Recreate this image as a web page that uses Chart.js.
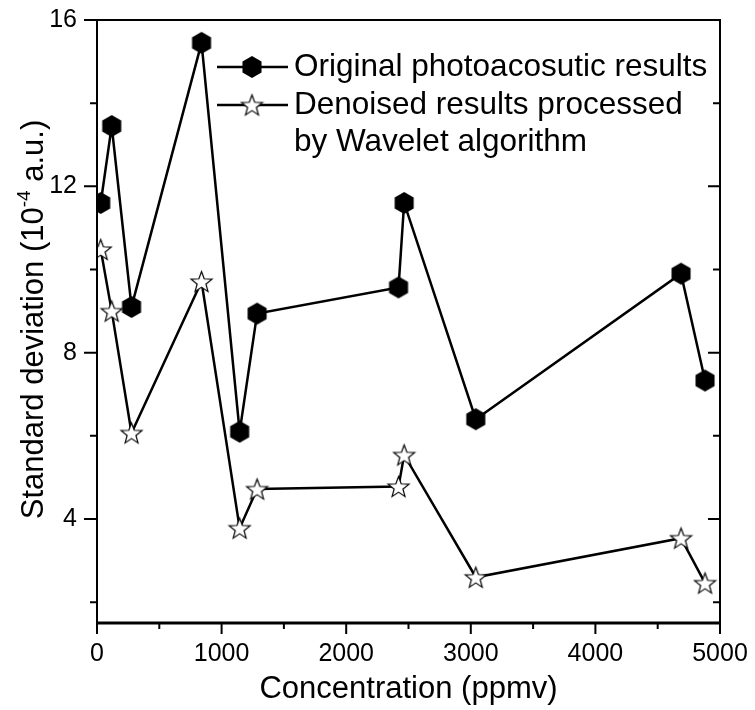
<!DOCTYPE html>
<html>
<head>
<meta charset="utf-8">
<script src="https://cdn.jsdelivr.net/npm/chart.js@4.4.1/dist/chart.umd.min.js"></script>
<style>
  html, body { margin: 0; padding: 0; background: #fff; }
</style>
</head>
<body>
<canvas id="chart" width="755" height="710"></canvas>
<script>
/* ---------- Data ---------- */
const concentration   = [30, 118, 277, 839, 1145, 1285, 2420, 2465, 3040, 4687, 4880];
const originalResults = [11.6, 13.45, 9.1, 15.45, 6.1, 8.94, 9.57, 11.6, 6.4, 9.9, 7.33];
const denoisedResults = [10.48, 9.0, 6.07, 9.71, 3.78, 4.72, 4.78, 5.54, 2.6, 3.54, 2.46];
const xTicks = [0, 1000, 2000, 3000, 4000, 5000];
const yTicks = [4, 8, 12, 16];
const seriesNames = [['Original photoacosutic results'], ['Denoised results processed', 'by Wavelet algorithm']];

const FONT = "'Liberation Sans', Arial, Helvetica, sans-serif";

/* ---------- Marker images ---------- */
function hexagonMarker(r) {
  const c = document.createElement('canvas');
  const s = Math.ceil(r * 2 + 2);
  c.width = c.height = s;
  const g = c.getContext('2d');
  g.beginPath();
  for (let i = 0; i < 6; i++) {
    const a = Math.PI / 2 + i * Math.PI / 3; // pointy top
    g.lineTo(s / 2 + r * Math.cos(a), s / 2 - r * Math.sin(a));
  }
  g.closePath();
  g.fillStyle = '#000';
  g.fill();
  return c;
}

function starMarker(r) {
  const c = document.createElement('canvas');
  const s = Math.ceil(r * 2 + 3);
  c.width = c.height = s;
  const g = c.getContext('2d');
  g.beginPath();
  for (let i = 0; i < 10; i++) {
    const rr = i % 2 === 0 ? r : r * 0.42;
    const a = Math.PI / 2 + i * Math.PI / 5;
    g.lineTo(s / 2 + rr * Math.cos(a), s / 2 + 1 - rr * Math.sin(a));
  }
  g.closePath();
  g.fillStyle = '#fff';
  g.fill();
  g.strokeStyle = '#000';
  g.lineWidth = 1.2;
  g.stroke();
  return c;
}

const hexImg  = hexagonMarker(11);
const starImg = starMarker(11);

/* ---------- Frame + tick marks ---------- */
const framePlugin = {
  id: 'frame',
  afterDatasetsDraw(chart) {
    const { ctx, chartArea: a, scales: { x, y } } = chart;
    ctx.save();
    ctx.strokeStyle = '#000';
    ctx.lineWidth = 2;
    ctx.strokeRect(a.left, a.top, a.right - a.left, a.bottom - a.top);
    ctx.lineWidth = 3;
    ctx.beginPath();
    ctx.moveTo(a.left - 1, a.bottom);
    ctx.lineTo(a.right + 1, a.bottom);
    ctx.stroke();

    ctx.lineWidth = 2;
    ctx.beginPath();
    // bottom: outward, major + minor
    const xStep = (xTicks[1] - xTicks[0]) / 2;
    for (let v = x.min; v <= x.max; v += xStep) {
      const px = x.getPixelForValue(v);
      const len = (v % (xStep * 2) === 0) ? 11 : 6;
      ctx.moveTo(px, a.bottom);
      ctx.lineTo(px, a.bottom + len);
    }
    // left outward, right inward
    const yStep = (yTicks[1] - yTicks[0]) / 2;
    for (let v = yStep; v <= y.max; v += yStep) {
      if (v < y.min) continue;
      const py = y.getPixelForValue(v);
      const major = v % (yStep * 2) === 0;
      ctx.moveTo(a.left, py);
      ctx.lineTo(a.left - (major ? 13 : 7), py);
      if (v < y.max) {
        ctx.moveTo(a.right, py);
        ctx.lineTo(a.right - (major ? 12 : 7), py);
      }
    }
    ctx.stroke();
    ctx.restore();
  }
};

/* ---------- Y title with superscript ---------- */
const yTitlePlugin = {
  id: 'yTitle',
  afterDraw(chart) {
    const { ctx, chartArea: a } = chart;
    const big = '31px ' + FONT, small = '19px ' + FONT;
    const parts = [
      { t: 'Standard deviation (10', f: big, dy: 0 },
      { t: '-4', f: small, dy: -13 },
      { t: ' a.u.)', f: big, dy: 0 }
    ];
    ctx.save();
    let w = 0;
    parts.forEach(p => { ctx.font = p.f; p.w = ctx.measureText(p.t).width; w += p.w; });
    ctx.translate(43, (a.top + a.bottom) / 2 - 2);
    ctx.rotate(-Math.PI / 2);
    ctx.fillStyle = '#000';
    ctx.textBaseline = 'alphabetic';
    let cx = -w / 2;
    parts.forEach(p => { ctx.font = p.f; ctx.fillText(p.t, cx, p.dy); cx += p.w; });
    ctx.restore();
  }
};

/* ---------- Legend (multi-line label) ---------- */
const legendPlugin = {
  id: 'customLegend',
  afterDraw(chart) {
    const { ctx } = chart;
    const rows = [67, 105];
    const lineGap = 37;
    ctx.save();
    ctx.font = '31.5px ' + FONT;
    ctx.fillStyle = '#000';
    ctx.textBaseline = 'middle';
    chart.data.datasets.forEach((ds, i) => {
      const yy = rows[i];
      ctx.strokeStyle = '#000';
      ctx.lineWidth = 2.5;
      ctx.beginPath();
      ctx.moveTo(217, yy);
      ctx.lineTo(288, yy);
      ctx.stroke();
      const img = ds.pointStyle;
      ctx.drawImage(img, 252 - img.width / 2, yy - img.height / 2);
      seriesNames[i].forEach((line, k) => ctx.fillText(line, 294, yy + k * lineGap));
    });
    ctx.restore();
  }
};

/* ---------- Chart ---------- */
new Chart(document.getElementById('chart'), {
  type: 'line',
  data: {
    datasets: [
      {
        label: seriesNames[0].join(' '),
        data: concentration.map((c, i) => ({ x: c, y: originalResults[i] })),
        borderColor: '#000',
        borderWidth: 2.5,
        pointStyle: hexImg,
        pointRadius: 11,
        tension: 0
      },
      {
        label: seriesNames[1].join(' '),
        data: concentration.map((c, i) => ({ x: c, y: denoisedResults[i] })),
        borderColor: '#000',
        borderWidth: 2.5,
        pointStyle: starImg,
        pointRadius: 11,
        tension: 0
      }
    ]
  },
  options: {
    responsive: false,
    animation: false,
    devicePixelRatio: 1,
    layout: { padding: { top: 20, right: 35, left: 0, bottom: 0 } },
    plugins: { legend: { display: false }, tooltip: { enabled: false } },
    scales: {
      x: {
        type: 'linear',
        min: 0,
        max: 5000,
        afterBuildTicks: s => { s.ticks = xTicks.map(v => ({ value: v })); },
        afterFit: s => { s.height = 87; s.paddingLeft = 0; s.paddingRight = 0; },
        grid: { display: false, drawTicks: false },
        border: { display: false },
        ticks: {
          color: '#000', font: { family: FONT, size: 25 }, padding: 16, maxRotation: 0,
          callback: v => String(v)
        },
        title: {
          display: true,
          text: 'Concentration (ppmv)',
          color: '#000',
          font: { family: FONT, size: 31 },
          padding: { top: 0, bottom: 2 }
        }
      },
      y: {
        min: 1.5,
        max: 16,
        afterBuildTicks: s => { s.ticks = yTicks.map(v => ({ value: v })); },
        afterFit: s => { s.width = 97; s.paddingTop = 0; s.paddingBottom = 0; },
        grid: { display: false, drawTicks: false },
        border: { display: false },
        ticks: { color: '#000', font: { family: FONT, size: 25 }, padding: 20, callback: v => String(v) }
      }
    }
  },
  plugins: [framePlugin, yTitlePlugin, legendPlugin]
});
</script>
</body>
</html>
